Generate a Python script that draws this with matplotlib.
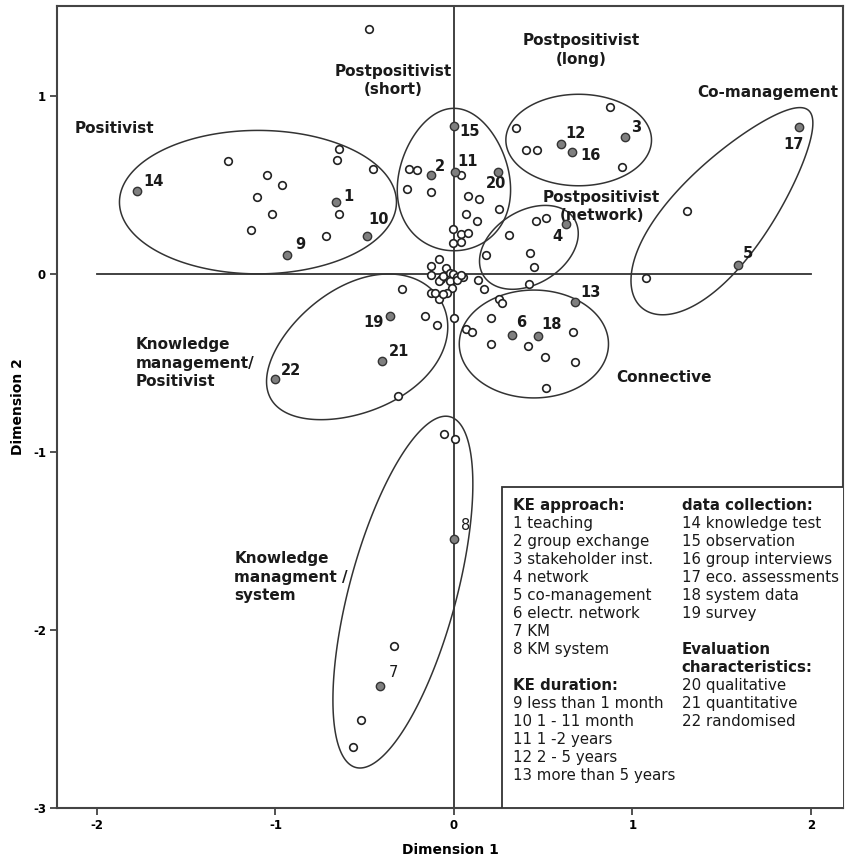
import numpy as np
import matplotlib.pyplot as plt
from matplotlib.patches import Polygon, Rectangle

plt.rcParams['axes.unicode_minus'] = False

# unlabeled objects (open circles)
open_x = [-1.266, -1.049, -0.962, -1.102, -1.022, -1.137, -0.715, -0.644, -0.654, -0.646, -0.454,
          -0.474,
          -0.250, -0.207, -0.263, -0.127, 0.037, 0.077, 0.140, 0.254, 0.067, 0.127, -0.004, 0.041,
          0.080, -0.004, 0.039,
          0.349, 0.874, 0.403, 0.467, 0.943,
          1.305, 1.074,
          0.458, 0.514, 0.306, 0.179, 0.424, 0.446, 0.422,
          0.136, 0.168, 0.250, 0.269, 0.207, 0.416, 0.669, 0.069, 0.103, 0.209, 0.512, 0.678, 0.515,
          0.000,
          -0.293, -0.162, -0.097, -0.315,
          -0.054, 0.007, -0.336, -0.521, -0.568,
          -0.082, -0.129, -0.047, -0.129, -0.075, -0.082, -0.060, -0.022, -0.004, 0.015, 0.049,
          -0.022, 0.015, -0.013, -0.041, -0.084, -0.129, -0.105, -0.060, 0.040]
open_y = [0.635, 0.556, 0.498, 0.433, 0.339, 0.247, 0.212, 0.702, 0.639, 0.337, 0.588,
          1.375,
          0.588, 0.584, 0.476, 0.463, 0.558, 0.438, 0.420, 0.363, 0.335, 0.298, 0.255, 0.223,
          0.229, 0.172, 0.178,
          0.818, 0.936, 0.695, 0.695, 0.603,
          0.352, -0.021,
          0.300, 0.316, 0.217, 0.105, 0.116, 0.039, -0.058,
          -0.036, -0.086, -0.139, -0.163, -0.245, -0.403, -0.328, -0.307, -0.328, -0.393, -0.464,
          -0.496, -0.642,
          -0.249,
          -0.086, -0.236, -0.285, -0.685,
          -0.901, -0.929, -2.088, -2.507, -2.657,
          0.084, 0.043, 0.032, -0.004, -0.030, -0.041, -0.011, 0.007, 0.000, -0.015, -0.015,
          -0.037, -0.034, -0.079, -0.105, -0.139, -0.107, -0.108, -0.112, -0.004]

# category points 1..22 (grey)
cat_id = list(range(1, 23))
cat_x = [-0.663, -0.131, 0.958, 0.627, 1.589, 0.325, -0.416, -0.002, -0.936, -0.489, 0.006,
         0.599, 0.680, -1.778, -0.002, 0.661, 1.935, 0.473, -0.359, 0.246, -0.403, -1.003]
cat_y = [0.403, 0.554, 0.768, 0.281, 0.049, -0.341, -2.313, -1.490, 0.105, 0.213, 0.573,
         0.732, -0.155, 0.468, 0.831, 0.684, 0.824, -0.346, -0.234, 0.575, -0.487, -0.590]

# label offsets in pixels (dx, dy)
lab_off = {1: (8, 6), 2: (4, 9), 3: (6, 10), 4: (-13, -12), 5: (5, 12), 6: (4, 12),
           7: (9, 13), 8: (7, 14), 9: (8, 11), 10: (2, 17), 11: (2, 11), 12: (4, 10),
           13: (5, 9), 14: (7, 9), 15: (6, -5), 16: (8, -3), 17: (-16, -17), 18: (3, 11),
           19: (-27, -7), 20: (-12, -12), 21: (7, 9), 22: (6, 9)}

# groups: center, half-major, half-minor, angle, egg factor
groups = [
    ((-1.098, 0.404), 0.776, 0.403, 0, 0.0),
    ((0.0, 0.531), 0.400, 0.314, 90, -0.15),
    ((0.699, 0.753), 0.408, 0.257, 0, 0.0),
    ((0.420, 0.150), 0.300, 0.205, 32, 0.0),
    ((1.520, 0.365), 0.725, 0.265, 50, -0.25),
    ((0.448, -0.393), 0.418, 0.303, 0, 0.0),
    ((-0.549, -0.427), 0.550, 0.350, 30, 0.12),
    ((-0.286, -1.787), 1.020, 0.300, 75, 0.0),
]

group_names = [
    (-2.123, 0.815, 'Positivist', 'left'),
    (-0.340, 1.087, 'Postpositivist\n(short)', 'center'),
    (0.711, 1.258, 'Postpositivist\n(long)', 'center'),
    (1.757, 1.021, 'Co-management', 'center'),
    (0.827, 0.379, 'Postpositivist\n(network)', 'center'),
    (0.908, -0.580, 'Connective', 'left'),
    (-1.781, -0.502, 'Knowledge\nmanagement/\nPositivist', 'left'),
    (-1.231, -1.704, 'Knowledge\nmanagment /\nsystem', 'left'),
]

legend_left = ['KE approach:', '1 teaching', '2 group exchange', '3 stakeholder inst.',
               '4 network', '5 co-management', '6 electr. network', '7 KM', '8 KM system', '',
               'KE duration:', '9 less than 1 month', '10 1 - 11 month', '11 1 -2 years',
               '12 2 - 5 years', '13 more than 5 years']
legend_right = ['data collection:', '14 knowledge test', '15 observation', '16 group interviews',
                '17 eco. assessments', '18 system data', '19 survey', '', 'Evaluation',
                'characteristics:', '20 qualitative', '21 quantitative', '22 randomised']
headers = ['KE approach:', 'KE duration:', 'data collection:', 'Evaluation', 'characteristics:']


def egg(c, a, b, ang, k):
    t = np.linspace(0, 2 * np.pi, 300)
    u = a * np.cos(t)
    v = b * np.sin(t) * (1 + k * np.cos(t))
    r = np.deg2rad(ang)
    x = c[0] + u * np.cos(r) - v * np.sin(r)
    y = c[1] + u * np.sin(r) + v * np.cos(r)
    return np.column_stack([x, y])


fig = plt.figure(figsize=(8.46, 8.57), dpi=100)
ax = fig.add_axes([57 / 846, 49 / 857, 786 / 846, 802 / 857])
ax.set_xlim(-2.224, 2.180)
ax.set_ylim(-3.0, 1.506)

txt = '#1a1a1a'
ax.plot([-2, 2], [0, 0], color='#333333', lw=1.3, zorder=1)
ax.axvline(0, color='#333333', lw=1.3, zorder=1)

for c, a, b, ang, k in groups:
    ax.add_patch(Polygon(egg(c, a, b, ang, k), closed=True, fill=False,
                         edgecolor='#333333', lw=1.1, zorder=2))

ax.scatter(open_x, open_y, s=30, facecolor='white', edgecolor='#222222', lw=1.2, zorder=3)
ax.scatter(cat_x, cat_y, s=36, facecolor='#7f7f7f', edgecolor='#333333', lw=1.0, zorder=4)

for i, x, y in zip(cat_id, cat_x, cat_y):
    dx, dy = lab_off[i]
    ax.annotate(str(i), (x, y), xytext=(dx, dy), textcoords='offset pixels',
                ha='left', va='center', fontsize=10.5, color=txt,
                fontweight='normal' if i in (7, 8) else 'bold')

for x, y, s, ha in group_names:
    ax.text(x, y, s, ha=ha, va='center', multialignment=ha, fontsize=11,
            fontweight='bold', color=txt, linespacing=1.3)

# legend box
ax.add_patch(Rectangle((0.269, -3.0), 2.0, 1.803, facecolor='white',
                       edgecolor='#333333', lw=1.3, zorder=5, clip_on=True))
y0 = -1.301
step = 18 / 178
for j, s in enumerate(legend_left):
    ax.text(0.331, y0 - j * step, s, ha='left', va='center', fontsize=10.8, color=txt,
            fontweight='bold' if s in headers else 'normal', zorder=6)
for j, s in enumerate(legend_right):
    ax.text(1.276, y0 - j * step, s, ha='left', va='center', fontsize=10.8, color=txt,
            fontweight='bold' if s in headers else 'normal', zorder=6)

ax.set_xticks([-2, -1, 0, 1, 2])
ax.set_yticks([-3, -2, -1, 0, 1])
for lab in ax.get_xticklabels() + ax.get_yticklabels():
    lab.set_fontweight('bold')
    lab.set_fontsize(8.5)
ax.tick_params(direction='out', length=5, width=1.2, color='#333333', pad=3)
for sp in ax.spines.values():
    sp.set_color('#444444')
    sp.set_linewidth(1.5)

ax.set_xlabel('Dimension 1', fontweight='bold', fontsize=10, labelpad=8)
ax.set_ylabel('Dimension 2', fontweight='bold', fontsize=10, labelpad=6)

fig.savefig('out.png', dpi=100)
